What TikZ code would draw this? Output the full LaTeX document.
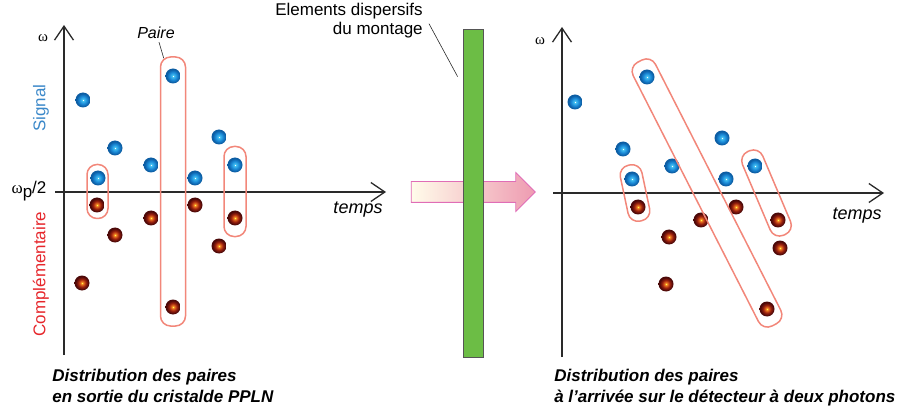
\documentclass[tikz,border=0pt]{standalone}
\usepackage{fontspec}
\setmainfont{Liberation Sans}
\newfontfamily\omegafont{Liberation Serif}
\usepackage{xcolor}
\usepackage{tikz}
\usetikzlibrary{positioning, calc, arrows.meta, shapes.arrows}

\definecolor{sigblue}{HTML}{3B88C9}
\definecolor{compred}{HTML}{E6262B}
\definecolor{pairline}{HTML}{F2877A}
\definecolor{bargreen}{HTML}{6CBD45}
\definecolor{arrowpink}{HTML}{EE9BB1}
\definecolor{arrowcream}{HTML}{FFFCEA}
\definecolor{arrowedge}{HTML}{E06DB6}
\definecolor{axisgray}{HTML}{2A2A2A}
\definecolor{dotcyan}{HTML}{45C2F2}
\definecolor{dotblue}{HTML}{1A88D6}
\definecolor{dotbluedark}{HTML}{0C5CA2}
\definecolor{dotorange}{HTML}{F27A22}
\definecolor{dotred}{HTML}{9A200E}
\definecolor{dotreddark}{HTML}{4A0808}

\pgfdeclareradialshading{bluedot}{\pgfpoint{0bp}{0bp}}{color(0bp)=(white); color(3bp)=(dotcyan); color(13bp)=(dotblue); color(22bp)=(dotbluedark); color(25bp)=(dotbluedark); color(50bp)=(dotbluedark)}
\pgfdeclareradialshading{reddot}{\pgfpoint{0bp}{0bp}}{color(0bp)=(yellow!70!white); color(4bp)=(dotorange); color(13bp)=(dotred); color(22bp)=(dotreddark); color(25bp)=(dotreddark); color(50bp)=(dotreddark)}

\tikzset{
  sigdot/.style={circle, inner sep=0pt, minimum size=15pt, shade, shading=bluedot},
  compdot/.style={circle, inner sep=0pt, minimum size=15pt, shade, shading=reddot},
  pairbox/.style={draw=pairline, line width=1.5pt, rounded corners=10pt, inner sep=0pt},
  axis/.style={draw=axisgray, line width=1.3pt, -{Straight Barb[length=14pt, width=19pt, line width=1.3pt]}},
  leader/.style={draw=axisgray, line width=0.6pt},
  txt/.style={font=\fontsize{17}{19}\selectfont, inner sep=0pt},
  omega/.style={font=\fontsize{15}{17}\selectfont\omegafont, inner sep=0pt},
  caption/.style={font=\fontsize{17}{21}\selectfont\bfseries\itshape, align=left, anchor=north west, inner sep=0pt}
}

\begin{document}
\begin{tikzpicture}[x=1pt, y=-1pt, semithick]
      \useasboundingbox (0,0) rectangle (902,414);

      % Left panel axes
      \coordinate (lyBot) at (64,355);
      \coordinate (lyTop) at (64,25);
      \coordinate (lxBeg) at (55,192);
      \coordinate (lxEnd) at (386,192);
      \draw[axis] (lyBot) -- (lyTop);
      \draw[axis] (lxBeg) -- (lxEnd);

      % Left panel: signal photons
      \node[sigdot] (ls1) at (83,100) {};
      \node[sigdot] (ls2) at (98,178) {};
      \node[sigdot] (ls3) at (115,148) {};
      \node[sigdot] (ls4) at (151,165) {};
      \node[sigdot] (ls5) at (173,76) {};
      \node[sigdot] (ls6) at (195,178) {};
      \node[sigdot] (ls7) at (219,137) {};
      \node[sigdot] (ls8) at (235,165) {};

      % Left panel: complementary photons
      \node[compdot] (lc1) at (82,283) {};
      \node[compdot] (lc2) at (97,205) {};
      \node[compdot] (lc3) at (115,235) {};
      \node[compdot] (lc4) at (151,218) {};
      \node[compdot] (lc5) at (173,307) {};
      \node[compdot] (lc6) at (195,205) {};
      \node[compdot] (lc7) at (219,246) {};
      \node[compdot] (lc8) at (235,218) {};

      % Left panel: pairs
      \node[pairbox, minimum width=21pt, minimum height=54pt] (lp1) at ($(ls2)!.5!(lc2)$) {};
      \node[pairbox, minimum width=25pt, minimum height=269pt] (lp2) at ($(ls5)!.5!(lc5)$) {};
      \node[pairbox, minimum width=22pt, minimum height=90pt] (lp3) at ($(ls8)!.5!(lc8)$) {};

      % Left panel labels
      \node[omega] (lomega) at (43,38) {ω};
      \node[txt] (halfp) at (29,191) {{\omegafont ω}\raisebox{-4pt}{p}/2};
      \node[txt, text=sigblue, rotate=90] (sigTxt) at (41,108) {Signal};
      \node[txt, text=compred, rotate=90] (compTxt) at (41,274) {Complémentaire};
      \node[txt, font=\fontsize{18}{20}\selectfont\itshape] (ltemps) at (358,210) {temps};
      \node[txt, font=\fontsize{16}{18}\selectfont\itshape] (paireTxt) at (156,33) {Paire};
      \draw[leader] ($(paireTxt.south)+(3,3)$) -- ($(lp2.north west)+(4,2)$);
      \node[caption] (lcap) at (52,369) {Distribution des paires\\en sortie du cristalde PPLN};

      % Dispersive elements
      \node[single arrow, draw=arrowedge, line width=0.8pt, left color=arrowcream, right color=arrowpink,
            minimum height=124pt, single arrow head extend=9pt, inner sep=0pt, inner ysep=10pt,
            text height=0pt, text depth=0pt] (flux) at (468,192) {};
      \node[draw=axisgray!80, fill=bargreen, line width=0.8pt, minimum width=20pt, minimum height=328pt, inner sep=0pt] (disp) at (473,193) {};
      \node[txt, align=right, anchor=north east] (dispTxt) at (423,3) {Elements dispersifs\\du montage};
      \draw[leader] ($(dispTxt.east)+(6,3)$) -- ($(disp.north west)+(-5,48)$);

      % Right panel axes
      \coordinate (ryBot) at (562,357);
      \coordinate (ryTop) at (562,27);
      \coordinate (rxBeg) at (553,193);
      \coordinate (rxEnd) at (884,193);
      \draw[axis] (ryBot) -- (ryTop);
      \draw[axis] (rxBeg) -- (rxEnd);

      % Right panel: signal photons
      \node[sigdot] (rs1) at (575,102) {};
      \node[sigdot] (rs2) at (647,77) {};
      \node[sigdot] (rs3) at (623,149) {};
      \node[sigdot] (rs4) at (632,179) {};
      \node[sigdot] (rs5) at (672,166) {};
      \node[sigdot] (rs6) at (722,138) {};
      \node[sigdot] (rs7) at (726,179) {};
      \node[sigdot] (rs8) at (755,166) {};

      % Right panel: complementary photons
      \node[compdot] (rc1) at (638,207) {};
      \node[compdot] (rc2) at (669,237) {};
      \node[compdot] (rc3) at (666,284) {};
      \node[compdot] (rc4) at (701,220) {};
      \node[compdot] (rc5) at (736,207) {};
      \node[compdot] (rc6) at (778,220) {};
      \node[compdot] (rc7) at (780,248) {};
      \node[compdot] (rc8) at (767,309) {};

      % Right panel: pairs after dispersion
      \node[pairbox, minimum width=22pt, minimum height=57pt, rotate=12] (rp1) at ($(rs4)!.5!(rc1)$) {};
      \node[pairbox, minimum width=25pt, minimum height=296pt, rotate=27] (rp2) at ($(rs2)!.5!(rc8)$) {};
      \node[pairbox, minimum width=22pt, minimum height=91pt, rotate=23] (rp3) at ($(rs8)!.5!(rc6)$) {};

      % Right panel labels
      \node[omega] (romega) at (540,41) {ω};
      \node[txt, font=\fontsize{18}{20}\selectfont\itshape] (rtemps) at (857,216) {temps};
      \node[caption] (rcap) at (554,369) {Distribution des paires\\à l'arrivée sur le détecteur à deux photons};
\end{tikzpicture}
\end{document}
